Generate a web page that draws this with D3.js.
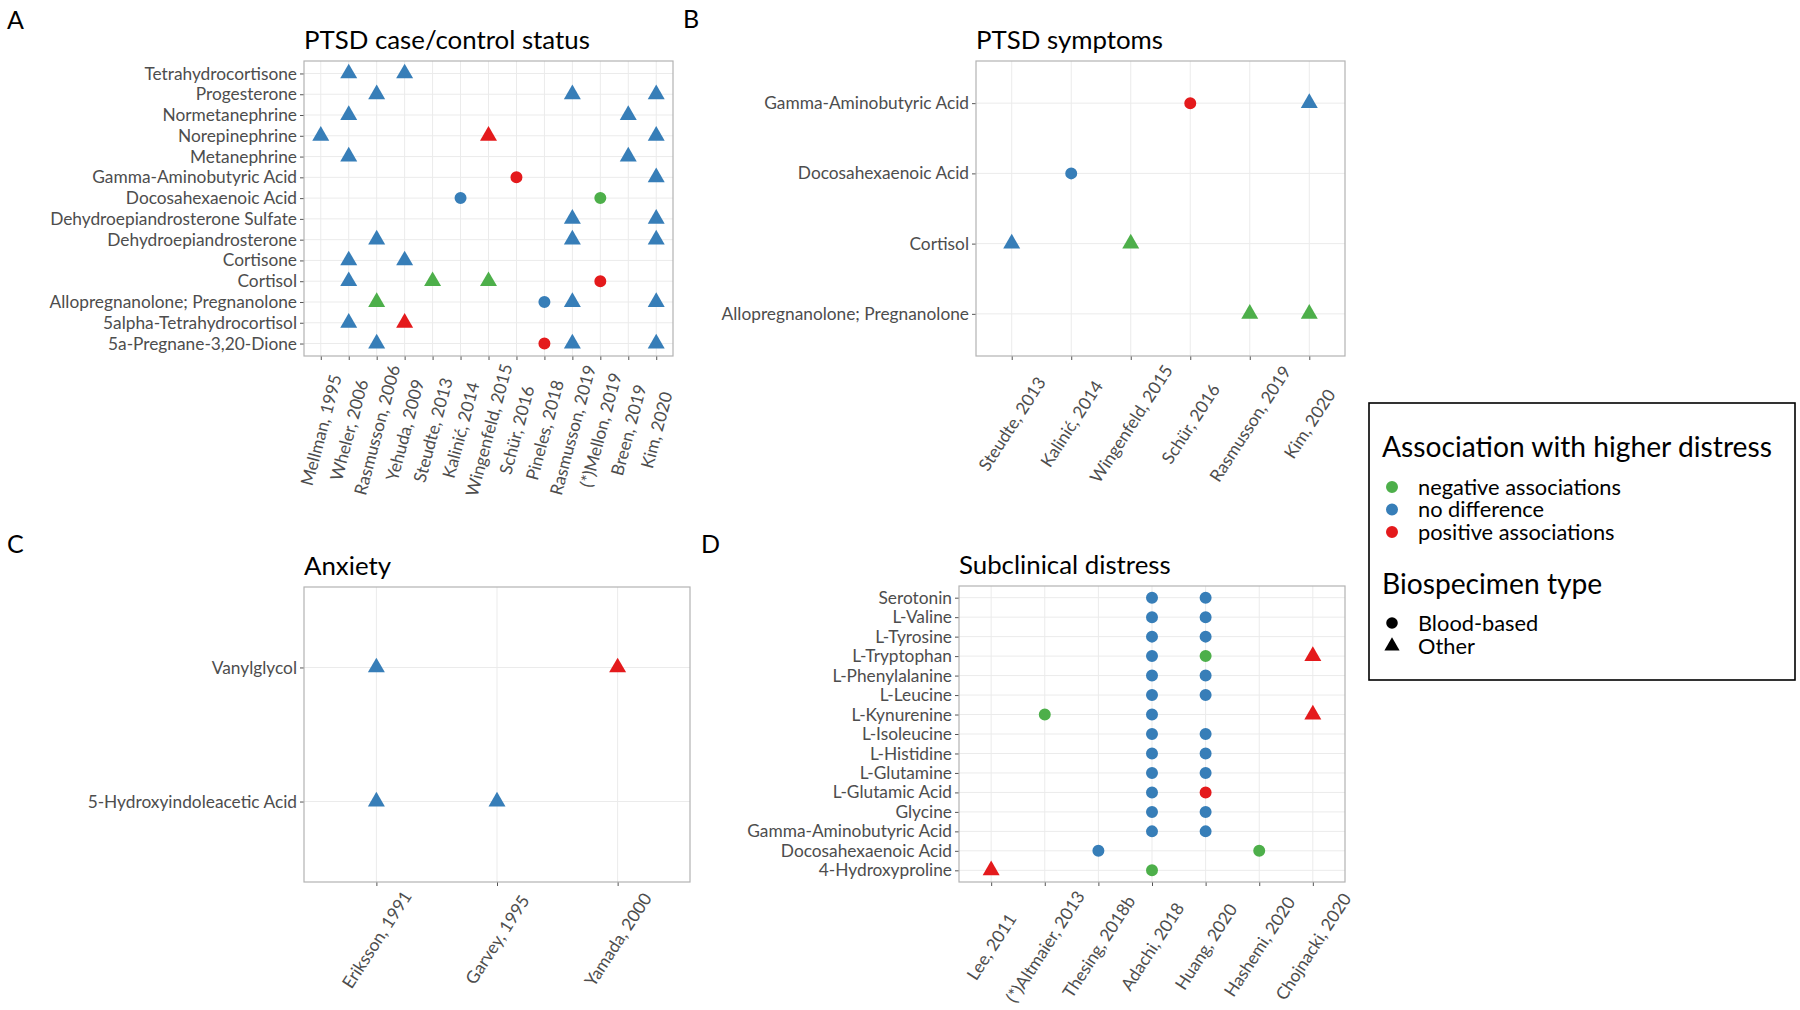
<!DOCTYPE html>
<html><head><meta charset="utf-8">
<script src="https://cdn.jsdelivr.net/npm/d3@7"></script>
<style>body{margin:0;background:#fff} svg{display:block}</style>
</head><body><svg id="chart" width="1800" height="1010"></svg>
<script>
// ---------------- DATA ----------------
const assocLevels = ["negative associations", "no difference", "positive associations"];
const assocColors = ["#4DAF4A", "#377EB8", "#E41A1C"];
const specimenLevels = ["Blood-based", "Other"];

const studiesA = ["Mellman, 1995","Wheler, 2006","Rasmusson, 2006","Yehuda, 2009","Steudte, 2013","Kalinić, 2014","Wingenfeld, 2015","Schür, 2016","Pineles, 2018","Rasmusson, 2019","(*)Mellon, 2019","Breen, 2019","Kim, 2020"];
const metabolitesA = ["Tetrahydrocortisone","Progesterone","Normetanephrine","Norepinephrine","Metanephrine","Gamma-Aminobutyric Acid","Docosahexaenoic Acid","Dehydroepiandrosterone Sulfate","Dehydroepiandrosterone","Cortisone","Cortisol","Allopregnanolone; Pregnanolone","5alpha-Tetrahydrocortisol","5a-Pregnane-3,20-Dione"];
const findingsA = [
  ["Tetrahydrocortisone","Wheler, 2006","no difference","Other"],
  ["Tetrahydrocortisone","Yehuda, 2009","no difference","Other"],
  ["Progesterone","Rasmusson, 2006","no difference","Other"],
  ["Progesterone","Rasmusson, 2019","no difference","Other"],
  ["Progesterone","Kim, 2020","no difference","Other"],
  ["Normetanephrine","Wheler, 2006","no difference","Other"],
  ["Normetanephrine","Breen, 2019","no difference","Other"],
  ["Norepinephrine","Mellman, 1995","no difference","Other"],
  ["Norepinephrine","Wingenfeld, 2015","positive associations","Other"],
  ["Norepinephrine","Kim, 2020","no difference","Other"],
  ["Metanephrine","Wheler, 2006","no difference","Other"],
  ["Metanephrine","Breen, 2019","no difference","Other"],
  ["Gamma-Aminobutyric Acid","Schür, 2016","positive associations","Blood-based"],
  ["Gamma-Aminobutyric Acid","Kim, 2020","no difference","Other"],
  ["Docosahexaenoic Acid","Kalinić, 2014","no difference","Blood-based"],
  ["Docosahexaenoic Acid","(*)Mellon, 2019","negative associations","Blood-based"],
  ["Dehydroepiandrosterone Sulfate","Rasmusson, 2019","no difference","Other"],
  ["Dehydroepiandrosterone Sulfate","Kim, 2020","no difference","Other"],
  ["Dehydroepiandrosterone","Rasmusson, 2006","no difference","Other"],
  ["Dehydroepiandrosterone","Rasmusson, 2019","no difference","Other"],
  ["Dehydroepiandrosterone","Kim, 2020","no difference","Other"],
  ["Cortisone","Wheler, 2006","no difference","Other"],
  ["Cortisone","Yehuda, 2009","no difference","Other"],
  ["Cortisol","Wheler, 2006","no difference","Other"],
  ["Cortisol","Steudte, 2013","negative associations","Other"],
  ["Cortisol","Wingenfeld, 2015","negative associations","Other"],
  ["Cortisol","(*)Mellon, 2019","positive associations","Blood-based"],
  ["Allopregnanolone; Pregnanolone","Rasmusson, 2006","negative associations","Other"],
  ["Allopregnanolone; Pregnanolone","Pineles, 2018","no difference","Blood-based"],
  ["Allopregnanolone; Pregnanolone","Rasmusson, 2019","no difference","Other"],
  ["Allopregnanolone; Pregnanolone","Kim, 2020","no difference","Other"],
  ["5alpha-Tetrahydrocortisol","Wheler, 2006","no difference","Other"],
  ["5alpha-Tetrahydrocortisol","Yehuda, 2009","positive associations","Other"],
  ["5a-Pregnane-3,20-Dione","Rasmusson, 2006","no difference","Other"],
  ["5a-Pregnane-3,20-Dione","Pineles, 2018","positive associations","Blood-based"],
  ["5a-Pregnane-3,20-Dione","Rasmusson, 2019","no difference","Other"],
  ["5a-Pregnane-3,20-Dione","Kim, 2020","no difference","Other"]
];

const studiesB = ["Steudte, 2013","Kalinić, 2014","Wingenfeld, 2015","Schür, 2016","Rasmusson, 2019","Kim, 2020"];
const metabolitesB = ["Gamma-Aminobutyric Acid","Docosahexaenoic Acid","Cortisol","Allopregnanolone; Pregnanolone"];
const findingsB = [
  ["Gamma-Aminobutyric Acid","Schür, 2016","positive associations","Blood-based"],
  ["Gamma-Aminobutyric Acid","Kim, 2020","no difference","Other"],
  ["Docosahexaenoic Acid","Kalinić, 2014","no difference","Blood-based"],
  ["Cortisol","Steudte, 2013","no difference","Other"],
  ["Cortisol","Wingenfeld, 2015","negative associations","Other"],
  ["Allopregnanolone; Pregnanolone","Rasmusson, 2019","negative associations","Other"],
  ["Allopregnanolone; Pregnanolone","Kim, 2020","negative associations","Other"]
];

const studiesC = ["Eriksson, 1991","Garvey, 1995","Yamada, 2000"];
const metabolitesC = ["Vanylglycol","5-Hydroxyindoleacetic Acid"];
const findingsC = [
  ["Vanylglycol","Eriksson, 1991","no difference","Other"],
  ["Vanylglycol","Yamada, 2000","positive associations","Other"],
  ["5-Hydroxyindoleacetic Acid","Eriksson, 1991","no difference","Other"],
  ["5-Hydroxyindoleacetic Acid","Garvey, 1995","no difference","Other"]
];

const studiesD = ["Lee, 2011","(*)Altmaier, 2013","Thesing, 2018b","Adachi, 2018","Huang, 2020","Hashemi, 2020","Chojnacki, 2020"];
const metabolitesD = ["Serotonin","L-Valine","L-Tyrosine","L-Tryptophan","L-Phenylalanine","L-Leucine","L-Kynurenine","L-Isoleucine","L-Histidine","L-Glutamine","L-Glutamic Acid","Glycine","Gamma-Aminobutyric Acid","Docosahexaenoic Acid","4-Hydroxyproline"];
const findingsD = [
  ["Serotonin","Adachi, 2018","no difference","Blood-based"],
  ["Serotonin","Huang, 2020","no difference","Blood-based"],
  ["L-Valine","Adachi, 2018","no difference","Blood-based"],
  ["L-Valine","Huang, 2020","no difference","Blood-based"],
  ["L-Tyrosine","Adachi, 2018","no difference","Blood-based"],
  ["L-Tyrosine","Huang, 2020","no difference","Blood-based"],
  ["L-Tryptophan","Adachi, 2018","no difference","Blood-based"],
  ["L-Tryptophan","Huang, 2020","negative associations","Blood-based"],
  ["L-Tryptophan","Chojnacki, 2020","positive associations","Other"],
  ["L-Phenylalanine","Adachi, 2018","no difference","Blood-based"],
  ["L-Phenylalanine","Huang, 2020","no difference","Blood-based"],
  ["L-Leucine","Adachi, 2018","no difference","Blood-based"],
  ["L-Leucine","Huang, 2020","no difference","Blood-based"],
  ["L-Kynurenine","(*)Altmaier, 2013","negative associations","Blood-based"],
  ["L-Kynurenine","Adachi, 2018","no difference","Blood-based"],
  ["L-Kynurenine","Chojnacki, 2020","positive associations","Other"],
  ["L-Isoleucine","Adachi, 2018","no difference","Blood-based"],
  ["L-Isoleucine","Huang, 2020","no difference","Blood-based"],
  ["L-Histidine","Adachi, 2018","no difference","Blood-based"],
  ["L-Histidine","Huang, 2020","no difference","Blood-based"],
  ["L-Glutamine","Adachi, 2018","no difference","Blood-based"],
  ["L-Glutamine","Huang, 2020","no difference","Blood-based"],
  ["L-Glutamic Acid","Adachi, 2018","no difference","Blood-based"],
  ["L-Glutamic Acid","Huang, 2020","positive associations","Blood-based"],
  ["Glycine","Adachi, 2018","no difference","Blood-based"],
  ["Glycine","Huang, 2020","no difference","Blood-based"],
  ["Gamma-Aminobutyric Acid","Adachi, 2018","no difference","Blood-based"],
  ["Gamma-Aminobutyric Acid","Huang, 2020","no difference","Blood-based"],
  ["Docosahexaenoic Acid","Thesing, 2018b","no difference","Blood-based"],
  ["Docosahexaenoic Acid","Hashemi, 2020","negative associations","Blood-based"],
  ["4-Hydroxyproline","Lee, 2011","positive associations","Other"],
  ["4-Hydroxyproline","Adachi, 2018","negative associations","Blood-based"]
];

// ---------------- STYLE / LAYOUT ----------------
const FONT = "Lato, 'Open Sans', sans-serif";
const svg = d3.select("#chart");

function measure(text, size) {
  const t = svg.append("text").attr("font-family", FONT).attr("font-size", size).text(text);
  const w = t.node().getComputedTextLength();
  t.remove();
  return w;
}
const axisFS = 100 * 247 / measure("Dehydroepiandrosterone Sulfate", 100);
const titleFS = 100 * 286 / measure("PTSD case/control status", 100);
const legTitleFS = 100 * 390 / measure("Association with higher distress", 100);
const legTextFS = 100 * 203 / measure("negative associations", 100);
const tagFS = 25;

const color = d3.scaleOrdinal().domain(assocLevels).range(assocColors);
const shape = d3.scaleOrdinal().domain(specimenLevels).range([d3.symbolCircle, d3.symbolTriangle]);
const sizeOf = d3.scaleOrdinal().domain(specimenLevels).range([113, 125]);
const symbolPath = (sp, s) => d3.symbol().type(shape(sp)).size(s || sizeOf(sp))();

const panels = [
  {tag:"A", tx:7, ty:29, title:"PTSD case/control status", x0:304, x1:673, y0:61, y1:356, angle:75,
   studies:studiesA, metabolites:metabolitesA, findings:findingsA},
  {tag:"B", tx:683, ty:28, title:"PTSD symptoms", x0:976, x1:1345, y0:61, y1:356, angle:57,
   studies:studiesB, metabolites:metabolitesB, findings:findingsB},
  {tag:"C", tx:7, ty:553, title:"Anxiety", x0:304, x1:690, y0:587, y1:882, angle:57,
   studies:studiesC, metabolites:metabolitesC, findings:findingsC},
  {tag:"D", tx:701, ty:553, title:"Subclinical distress", x0:959, x1:1345, y0:586, y1:882, angle:57,
   studies:studiesD, metabolites:metabolitesD, findings:findingsD}
];

panels.forEach(p => {
  const g = svg.append("g");
  const x = d3.scalePoint().domain(p.studies).range([p.x0, p.x1]).padding(0.6);
  const y = d3.scalePoint().domain(p.metabolites).range([p.y0, p.y1]).padding(0.6);

  g.append("text").attr("x", p.tx).attr("y", p.ty).attr("font-family", FONT)
    .attr("font-size", tagFS).attr("fill", "#000").text(p.tag);
  g.append("text").attr("x", p.x0).attr("y", p.y0 - 12).attr("font-family", FONT)
    .attr("font-size", titleFS).attr("fill", "#000").text(p.title);

  // grid
  g.append("g").selectAll("line").data(p.studies).join("line")
    .attr("x1", d => x(d)).attr("x2", d => x(d)).attr("y1", p.y0).attr("y2", p.y1)
    .attr("stroke", "#ebebeb").attr("stroke-width", 1);
  g.append("g").selectAll("line").data(p.metabolites).join("line")
    .attr("y1", d => y(d)).attr("y2", d => y(d)).attr("x1", p.x0).attr("x2", p.x1)
    .attr("stroke", "#ebebeb").attr("stroke-width", 1);

  // y axis
  const ya = g.append("g").attr("transform", `translate(${p.x0},0)`)
    .call(d3.axisLeft(y).tickSize(4).tickPadding(3));
  ya.select(".domain").remove();
  ya.selectAll(".tick line").attr("stroke", "#555").attr("stroke-width", 1);
  ya.selectAll(".tick text").attr("font-family", FONT).attr("font-size", axisFS).attr("fill", "#4d4d4d");

  // x axis
  const xa = g.append("g").attr("transform", `translate(0,${p.y1})`)
    .call(d3.axisBottom(x).tickSize(4));
  xa.select(".domain").remove();
  xa.selectAll(".tick line").attr("stroke", "#555").attr("stroke-width", 1);
  const a = p.angle * Math.PI / 180;
  const txt = xa.selectAll(".tick text").attr("font-family", FONT).attr("font-size", axisFS)
    .attr("fill", "#4d4d4d").attr("y", 0).attr("x", 0).attr("dy", "0.35em").attr("text-anchor", "middle");
  let maxH = 0;
  txt.each(function() {
    const L = this.getComputedTextLength();
    maxH = Math.max(maxH, L * Math.sin(a) + axisFS * Math.cos(a));
  });
  txt.attr("transform", `translate(0,${6 + maxH / 2}) rotate(${-p.angle})`);

  // border
  g.append("rect").attr("x", p.x0).attr("y", p.y0).attr("width", p.x1 - p.x0).attr("height", p.y1 - p.y0)
    .attr("fill", "none").attr("stroke", "#b3b3b3").attr("stroke-width", 1.2);

  // points
  g.append("g").selectAll("path").data(p.findings).join("path")
    .attr("transform", d => `translate(${x(d[1])},${y(d[0])})`)
    .attr("d", d => symbolPath(d[3]))
    .attr("fill", d => color(d[2]));
});

// ---------------- LEGEND ----------------
const lg = svg.append("g");
lg.append("rect").attr("x", 1369).attr("y", 403).attr("width", 426).attr("height", 277)
  .attr("fill", "#fff").attr("stroke", "#000").attr("stroke-width", 1.6);
lg.append("text").attr("x", 1382).attr("y", 457).attr("font-family", FONT).attr("font-size", legTitleFS)
  .attr("fill", "#000").text("Association with higher distress");
const assocY = d3.scalePoint().domain(assocLevels).range([487, 532]);
assocLevels.forEach(l => {
  lg.append("path").attr("transform", `translate(1392,${assocY(l)})`)
    .attr("d", symbolPath("Blood-based", 113)).attr("fill", color(l));
  lg.append("text").attr("x", 1418).attr("y", assocY(l)).attr("dy", "0.35em")
    .attr("font-family", FONT).attr("font-size", legTextFS).attr("fill", "#000").text(l);
});
lg.append("text").attr("x", 1382).attr("y", 594).attr("font-family", FONT).attr("font-size", legTitleFS)
  .attr("fill", "#000").text("Biospecimen type");
const specY = d3.scalePoint().domain(specimenLevels).range([623, 646]);
specimenLevels.forEach(l => {
  lg.append("path").attr("transform", `translate(1392,${specY(l)})`)
    .attr("d", symbolPath(l, l === "Other" ? 100 : 105)).attr("fill", "#000");
  lg.append("text").attr("x", 1418).attr("y", specY(l)).attr("dy", "0.35em")
    .attr("font-family", FONT).attr("font-size", legTextFS).attr("fill", "#000").text(l);
});
</script></body></html>
